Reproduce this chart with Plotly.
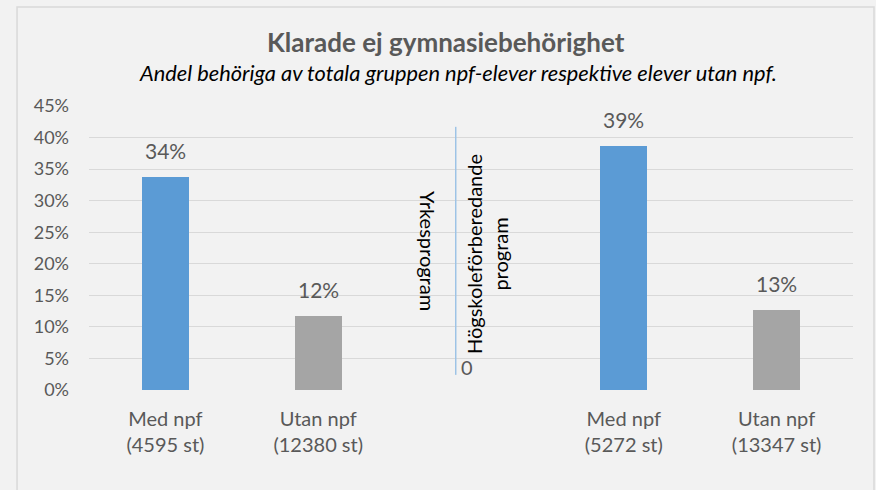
import plotly.graph_objects as go

# ---- data ----
categories = ["Med npf<br>(4595 st)", "Utan npf<br>(12380 st)", " ",
              "Med npf<br>(5272 st)", "Utan npf<br>(13347 st)"]
values = [33.7, 11.7, None, 38.7, 12.7]
bar_colors = ["#5B9BD5", "#A5A5A5", "#5B9BD5", "#5B9BD5", "#A5A5A5"]
y_ticks = [0, 5, 10, 15, 20, 25, 30, 35, 40, 45]
y_ticklabels = [f"{t}%" for t in y_ticks]
group_labels = ["Yrkesprogram", "Högskoleförberedande<br>program"]
divider_x = 1.9
divider_span = [2.4, 41.7]
divider_label = "0"

title = "Klarade ej gymnasiebehörighet"
subtitle = "Andel behöriga av totala gruppen npf-elever respektive elever utan npf."

FONT = "Lato"
GRAY = "#595959"

xs = list(range(len(categories)))

fig = go.Figure()
fig.add_trace(go.Bar(
    x=xs, y=values, width=0.31,
    marker=dict(color=bar_colors, line=dict(width=0)),
    hoverinfo="skip", showlegend=False,
))

annotations = []
for x, v in zip(xs, values):
    if v is None:
        continue
    annotations.append(dict(
        x=x, y=v, xref="x", yref="y", text=f"{round(v)}%",
        showarrow=False, xanchor="center", yanchor="bottom", yshift=12,
        font=dict(family=FONT, size=21, color=GRAY),
    ))

# group labels (rotated)
annotations.append(dict(
    x=1.72, y=22, xref="x", yref="y", text=group_labels[0], textangle=90,
    showarrow=False, font=dict(family=FONT, size=20, color="#000000"),
))
annotations.append(dict(
    x=2.1, y=21.6, xref="x", yref="y", text=group_labels[1], textangle=-90,
    showarrow=False, font=dict(family=FONT, size=20, color="#000000"),
))
annotations.append(dict(
    x=divider_x, y=divider_span[0], xref="x", yref="y", text=divider_label,
    showarrow=False, xanchor="left", xshift=3, yshift=8,
    font=dict(family=FONT, size=20, color=GRAY),
))

# titles
annotations.append(dict(
    x=0.467, y=1.2254, xref="paper", yref="paper", text=f"<b>{title}</b>",
    xanchor="center", yanchor="middle",
    showarrow=False, font=dict(family=FONT, size=26, color=GRAY),
))
annotations.append(dict(
    x=0.483, y=1.1197, xref="paper", yref="paper", text=f"<i>{subtitle}</i>",
    xanchor="center", yanchor="middle",
    showarrow=False, font=dict(family=FONT, size=21.8, color="#000000"),
))

shapes = [
    dict(type="line", xref="x", yref="y", x0=divider_x, x1=divider_x,
         y0=divider_span[0], y1=divider_span[1],
         line=dict(color="#9DC3E6", width=1.5)),
    dict(type="rect", xref="paper", yref="paper", x0=-0.0942, x1=1.0275,
         y0=-0.40, y1=1.3486, line=dict(color="#D9D9D9", width=1.5),
         layer="below"),
]

fig.update_layout(
    width=876, height=490,
    margin=dict(l=89, r=23, t=106, b=100),
    paper_bgcolor="#F2F2F2", plot_bgcolor="#F2F2F2",
    annotations=annotations, shapes=shapes,
    bargap=0,
    xaxis=dict(
        tickmode="array", tickvals=xs, ticktext=categories,
        range=[-0.5, 4.5], showgrid=False, zeroline=False, showline=False,
        ticks="", ticklabelstandoff=15,
        tickfont=dict(family=FONT, size=20, color=GRAY),
        fixedrange=True,
    ),
    yaxis=dict(
        tickmode="array", tickvals=y_ticks, ticktext=y_ticklabels,
        range=[0, 45], showgrid=True, gridcolor="#D9D9D9", gridwidth=1,
        zeroline=False, showline=False, ticks="", ticklabelstandoff=19,
        tickfont=dict(family=FONT, size=18, color=GRAY), fixedrange=True,
    ),
)

fig.write_html(
    "out.html",
    config={"displayModeBar": False},
    post_script="document.body.style.margin='0';document.body.style.background='#F2F2F2';",
)
